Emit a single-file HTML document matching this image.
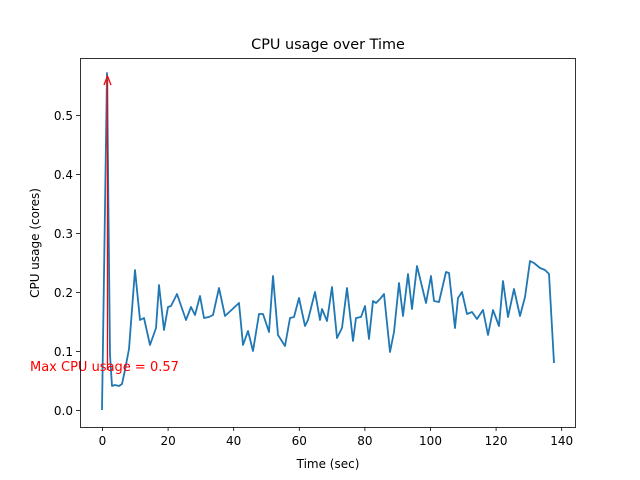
<!DOCTYPE html>
<html><head><style>body{margin:0;background:#fff}svg{display:block}text{font-family:"DejaVu Sans","Liberation Sans",sans-serif}</style></head><body>
<svg width="640" height="480" viewBox="0 0 640 480">
<rect width="640" height="480" fill="#fff"/>
<polyline fill="none" stroke="#1f77b4" stroke-width="1.8" stroke-linejoin="round" points="102,410 107,73 110,355 112,386 115,385 119,386 122,384 125,370 129,349 135,270 140,320 144,318 150,345 156,328 159,285 164,330 168,307 171,306 177,294 186,320 191,307 195,315 200,296 204,318 209,317 213,315 219,288 225,316 239,303 243,345 248,331 253,351 259,314 263,314 269,332 273,276 278,335 285,346 290,318 294,317 299,298 305,326 308,320 315,292 320,320 322,309 327,321 332,287 337,338 342,328 347,288 353,341 356,318 361,317 365,306 369,339 373,301 376,303 380,299 384,294 390,352 394,332 399,283 403,316 408,274 412,309 417,266 426,303 431,276 434,301 439,302 446,272 449,273 455,328 458,298 462,292 467,314 472,312 477,319 483,310 488,335 493,310 499,326 503,281 508,317 514,289 520,316 525,297 530,261 534,263 540,268 545,270 549,274 554,363"/>
<line x1="107.5" y1="370" x2="107.5" y2="80" stroke="red" stroke-width="1.3"/>
<path d="M104,85 L107.5,76 L111,85" fill="none" stroke="red" stroke-width="1.3"/>
<text x="30" y="371" font-size="13" fill="red">Max CPU usage = 0.57</text>
<rect x="80.5" y="58.5" width="495" height="369" fill="none" stroke="#000" stroke-width="0.8"/>
<g stroke="#000" stroke-width="0.8">
<line x1="102.5" y1="427" x2="102.5" y2="431"/><line x1="168.1" y1="427" x2="168.1" y2="431"/><line x1="233.7" y1="427" x2="233.7" y2="431"/><line x1="299.3" y1="427" x2="299.3" y2="431"/><line x1="364.9" y1="427" x2="364.9" y2="431"/><line x1="430.5" y1="427" x2="430.5" y2="431"/><line x1="496.1" y1="427" x2="496.1" y2="431"/><line x1="561.7" y1="427" x2="561.7" y2="431"/>
<line x1="76" y1="410.5" x2="80" y2="410.5"/><line x1="76" y1="351.5" x2="80" y2="351.5"/><line x1="76" y1="292.5" x2="80" y2="292.5"/><line x1="76" y1="233.5" x2="80" y2="233.5"/><line x1="76" y1="174.5" x2="80" y2="174.5"/><line x1="76" y1="115.5" x2="80" y2="115.5"/>
</g>
<g font-size="12" text-anchor="middle" fill="#000">
<text x="102.5" y="445">0</text><text x="168.1" y="445">20</text><text x="233.7" y="445">40</text><text x="299.3" y="445">60</text><text x="364.9" y="445">80</text><text x="430.5" y="445">100</text><text x="496.1" y="445">120</text><text x="561.7" y="445">140</text>
</g>
<g font-size="12" text-anchor="end" fill="#000">
<text x="73" y="415">0.0</text><text x="73" y="356">0.1</text><text x="73" y="297">0.2</text><text x="73" y="238">0.3</text><text x="73" y="179">0.4</text><text x="73" y="120">0.5</text>
</g>
<text x="328" y="468" font-size="12" text-anchor="middle">Time (sec)</text>
<text transform="translate(39,243) rotate(-90)" font-size="12" text-anchor="middle">CPU usage (cores)</text>
<text x="328" y="49" font-size="14.4" text-anchor="middle">CPU usage over Time</text>
</svg>
</body></html>
